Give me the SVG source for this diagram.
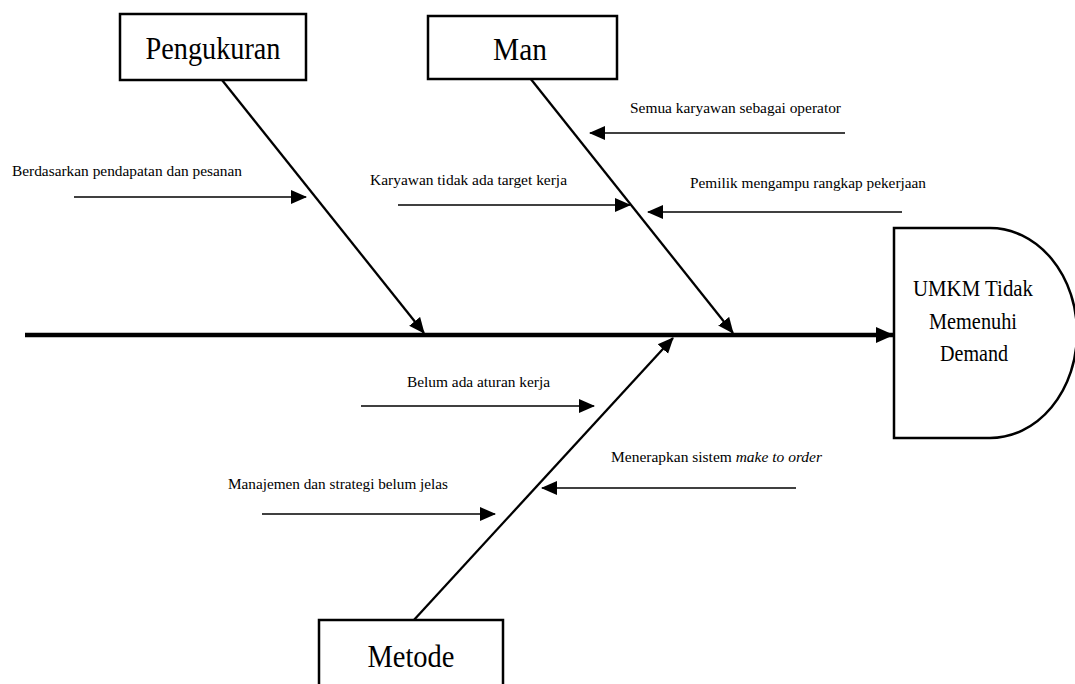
<svg xmlns="http://www.w3.org/2000/svg" width="1075" height="684" viewBox="0 0 1075 684">
<style>
.box{fill:#fff;stroke:#000;stroke-width:2.5}
.title{font-family:"Liberation Serif","Times New Roman",serif;font-size:31px;fill:#000;text-anchor:middle}
.lbl{font-family:"Liberation Serif","Times New Roman",serif;font-size:15.5px;fill:#000}
.eff{font-family:"Liberation Serif","Times New Roman",serif;font-size:23px;fill:#000;text-anchor:middle}
.thin{stroke:#000;stroke-width:1.5;fill:none;marker-end:url(#ah)}
.bone{stroke:#000;stroke-width:2.3;fill:none;marker-end:url(#ah)}
.spine{stroke:#000;stroke-width:4.5;fill:none;marker-end:url(#ahb)}
</style>
<defs>
<marker id="ah" markerUnits="userSpaceOnUse" markerWidth="16" markerHeight="16" refX="15" refY="8" orient="auto" viewBox="0 0 16 16">
<path d="M0,1 L16,8 L0,15 z" fill="#000"/>
</marker>
<marker id="ahb" markerUnits="userSpaceOnUse" markerWidth="18" markerHeight="18" refX="17" refY="9" orient="auto" viewBox="0 0 18 18">
<path d="M0,1 L18,9 L0,17 z" fill="#000"/>
</marker>
</defs>
<rect width="1075" height="684" fill="#fff"/>
<g id="connectors">
<line class="spine" x1="25" y1="335" x2="893" y2="335"/>
<line class="bone" x1="222" y1="80" x2="424" y2="333"/>
<line class="bone" x1="530" y1="78" x2="733" y2="333"/>
<line class="bone" x1="413" y1="621" x2="673" y2="338"/>
<line class="thin" x1="74" y1="197" x2="306" y2="197"/>
<line class="thin" x1="398" y1="205" x2="630" y2="205"/>
<line class="thin" x1="845" y1="133" x2="590" y2="133"/>
<line class="thin" x1="902" y1="212" x2="648" y2="212"/>
<line class="thin" x1="361" y1="406" x2="594" y2="406"/>
<line class="thin" x1="796" y1="488" x2="542" y2="488"/>
<line class="thin" x1="262" y1="514" x2="495" y2="514"/>
</g>
<g id="node-pengukuran">
<rect class="box" x="120" y="14" width="186" height="66"/>
<text class="title" x="213" y="59" textLength="135" lengthAdjust="spacingAndGlyphs">Pengukuran</text>
</g>
<g id="node-man">
<rect class="box" x="428" y="16" width="189" height="63"/>
<text class="title" x="520" y="60" textLength="54" lengthAdjust="spacingAndGlyphs">Man</text>
</g>
<g id="node-metode">
<rect class="box" x="319" y="620" width="184" height="70"/>
<text class="title" x="411" y="667" textLength="87" lengthAdjust="spacingAndGlyphs">Metode</text>
</g>
<g id="node-effect">
<path class="box" d="M894,228 L990,228 A87,105 0 0 1 990,438 L894,438 Z"/>
<text class="eff" x="973" y="296" textLength="120" lengthAdjust="spacingAndGlyphs">UMKM Tidak</text>
<text class="eff" x="973" y="329" textLength="88" lengthAdjust="spacingAndGlyphs">Memenuhi</text>
<text class="eff" x="974" y="361" textLength="68" lengthAdjust="spacingAndGlyphs">Demand</text>
</g>
<g id="labels">
<text class="lbl" x="12" y="176" textLength="230" lengthAdjust="spacingAndGlyphs">Berdasarkan pendapatan dan pesanan</text>
<text class="lbl" x="370" y="185" textLength="197" lengthAdjust="spacingAndGlyphs">Karyawan tidak ada target kerja</text>
<text class="lbl" x="630" y="113" textLength="211" lengthAdjust="spacingAndGlyphs">Semua karyawan sebagai operator</text>
<text class="lbl" x="690" y="188" textLength="236" lengthAdjust="spacingAndGlyphs">Pemilik mengampu rangkap pekerjaan</text>
<text class="lbl" x="407" y="387" textLength="143" lengthAdjust="spacingAndGlyphs">Belum ada aturan kerja</text>
<text class="lbl" x="611" y="462" textLength="211" lengthAdjust="spacingAndGlyphs">Menerapkan sistem <tspan font-style="italic">make to order</tspan></text>
<text class="lbl" x="228" y="489" textLength="220" lengthAdjust="spacingAndGlyphs">Manajemen dan strategi belum jelas</text>
</g>
</svg>
